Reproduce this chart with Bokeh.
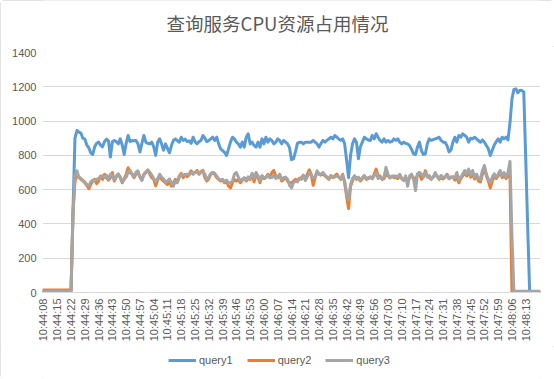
import math
from bokeh.plotting import figure
from bokeh.layouts import column
from bokeh.models import FixedTicker, Legend, LegendItem, Label
from bokeh.embed import file_html
from bokeh.resources import INLINE

title_text = "查询服务CPU资源占用情况"

tick_labels = ["10:44:08", "10:44:15", "10:44:22", "10:44:29", "10:44:36", "10:44:43",
               "10:44:50", "10:44:57", "10:45:04", "10:45:11", "10:45:18", "10:45:25",
               "10:45:32", "10:45:39", "10:45:46", "10:45:53", "10:46:00", "10:46:07",
               "10:46:14", "10:46:21", "10:46:28", "10:46:35", "10:46:42", "10:46:49",
               "10:46:56", "10:47:03", "10:47:10", "10:47:17", "10:47:24", "10:47:31",
               "10:47:38", "10:47:45", "10:47:52", "10:47:59", "10:48:06", "10:48:13"]
tick_step = 7

query1 = [
    5, 5, 5, 5, 5, 5, 5, 5, 5, 5,
    5, 5, 5, 5, 5, 480, 900, 945, 935, 930,
    900, 895, 860, 845, 815, 805, 850, 870, 878, 860,
    850, 880, 895, 885, 790, 880, 887, 880, 867, 896,
    860, 805, 870, 916, 880, 887, 885, 887, 867, 820,
    870, 916, 877, 870, 867, 877, 850, 800, 877, 896,
    867, 830, 867, 840, 815, 857, 887, 896, 885, 877,
    906, 887, 895, 880, 885, 870, 906, 880, 867, 880,
    887, 916, 900, 880, 887, 896, 906, 887, 906, 867,
    838, 828, 818, 799, 838, 877, 906, 896, 877, 867,
    848, 877, 848, 906, 926, 867, 877, 857, 848, 877,
    848, 896, 867, 906, 877, 896, 887, 867, 877, 896,
    887, 867, 887, 877, 867, 845, 775, 779, 820, 870,
    877, 877, 867, 877, 877, 877, 877, 887, 877, 867,
    848, 870, 887, 877, 887, 896, 906, 896, 916, 906,
    896, 887, 896, 867, 770, 670, 800, 867, 896, 877,
    780, 850, 877, 906, 896, 890, 887, 916, 896, 926,
    906, 887, 877, 896, 877, 887, 877, 880, 896, 887,
    896, 877, 867, 877, 870, 867, 857, 835, 809, 805,
    848, 877, 828, 805, 809, 867, 896, 887, 892, 896,
    900, 906, 887, 877, 877, 857, 820, 830, 877, 906,
    877, 916, 906, 926, 916, 906, 877, 900, 896, 906,
    896, 885, 877, 890, 877, 857, 838, 799, 830, 860,
    880, 896, 877, 906, 896, 906, 890, 990, 1130, 1185,
    1188, 1165, 1180, 1178, 1170, 780, 380, 0, 0, 0,
    0, 0, 0]

query2 = [
    15, 15, 15, 15, 15, 15, 15, 15, 15, 15,
    15, 15, 15, 15, 15, 470, 650, 680, 675, 660,
    655, 640, 625, 605, 630, 650, 660, 635, 650, 680,
    660, 690, 670, 655, 670, 700, 650, 675, 690, 670,
    640, 660, 690, 728, 700, 690, 670, 690, 700, 675,
    660, 690, 700, 715, 690, 670, 660, 622, 655, 680,
    660, 650, 640, 630, 650, 620, 640, 660, 645, 680,
    695, 670, 690, 675, 690, 710, 690, 700, 712, 690,
    705, 712, 670, 650, 665, 690, 700, 690, 670, 660,
    650, 655, 640, 650, 620, 610, 640, 660, 650, 660,
    640, 655, 665, 650, 665, 660, 690, 645, 690, 670,
    640, 680, 665, 670, 690, 670, 700, 712, 680, 670,
    690, 650, 660, 670, 650, 640, 640, 650, 660, 655,
    665, 670, 680, 660, 690, 715, 690, 625, 670, 700,
    690, 685, 690, 680, 670, 660, 680, 670, 680, 690,
    673, 660, 690, 640, 560, 490, 620, 650, 680, 660,
    670, 650, 665, 680, 660, 665, 675, 665, 690, 720,
    680, 680, 660, 665, 690, 680, 670, 675, 672, 670,
    665, 680, 665, 655, 670, 645, 670, 680, 670, 650,
    690, 700, 660, 673, 710, 680, 670, 660, 673, 690,
    680, 660, 670, 662, 673, 690, 665, 670, 675, 655,
    675, 640, 665, 680, 700, 680, 700, 672, 690, 662,
    680, 650, 645, 690, 730, 680, 650, 610, 650, 680,
    665, 680, 705, 670, 690, 665, 680, 680, 0, 0,
    0, 0, 0, 0, 0, 0, 0, 0, 0, 0,
    0, 0, 0]

query3 = [
    8, 8, 8, 8, 8, 8, 8, 8, 8, 8,
    8, 8, 8, 8, 8, 450, 680, 710, 670, 665,
    650, 645, 630, 620, 645, 655, 650, 660, 665, 675,
    680, 670, 685, 660, 690, 685, 655, 680, 692, 673,
    646, 663, 673, 702, 712, 690, 673, 702, 710, 673,
    653, 684, 702, 712, 702, 685, 665, 648, 663, 690,
    673, 663, 644, 650, 663, 640, 620, 650, 640, 673,
    690, 685, 685, 690, 685, 700, 692, 700, 705, 695,
    702, 705, 690, 660, 673, 692, 700, 695, 678, 663,
    655, 660, 645, 655, 640, 640, 650, 690, 700, 673,
    653, 660, 670, 653, 675, 665, 695, 665, 700, 680,
    655, 680, 670, 673, 685, 673, 670, 685, 665, 675,
    685, 660, 670, 673, 660, 625, 610, 640, 650, 645,
    665, 660, 685, 653, 673, 700, 685, 670, 673, 710,
    692, 690, 700, 685, 675, 665, 683, 675, 673, 680,
    675, 663, 683, 650, 580, 540, 630, 665, 680, 663,
    673, 653, 670, 682, 665, 670, 673, 663, 680, 700,
    665, 673, 663, 673, 730, 690, 668, 680, 680, 680,
    673, 690, 665, 653, 680, 620, 680, 690, 660, 595,
    690, 700, 690, 673, 700, 673, 682, 663, 673, 700,
    673, 665, 683, 672, 673, 682, 663, 675, 673, 668,
    700, 655, 673, 690, 712, 692, 720, 682, 712, 673,
    690, 665, 660, 712, 741, 690, 660, 640, 673, 692,
    672, 690, 712, 680, 700, 673, 700, 765, 330, 8,
    8, 8, 8, 8, 8, 8, 8, 8, 8, 8,
    8, 8, 8]

series_names = ["query1", "query2", "query3"]
series_colors = ["#5B9BD5", "#ED7D31", "#A5A5A5"]

n = len(query1)
xs = list(range(n))


def strip(h):
    f = figure(width=554, height=h, output_backend="svg", toolbar_location=None,
               x_axis_type=None, y_axis_type=None, x_range=(0, 1), y_range=(0, 1),
               min_border_left=0, min_border_right=0, min_border_top=0, min_border_bottom=0)
    f.outline_line_color = None
    f.xgrid.grid_line_color = None
    f.ygrid.grid_line_color = None
    return f


# ---- title strip ----
p0 = strip(46)
p0.add_layout(Label(x=0.5, y=0.5, x_offset=-14, y_offset=1, text=title_text,
                    text_align="center", text_baseline="middle",
                    text_font="Noto Sans CJK SC", text_font_size="18.5px", text_color="#595959"))

# ---- main chart ----
p = figure(width=554, height=300, output_backend="svg", toolbar_location=None,
           x_range=(-0.5, n - 0.5), y_range=(0, 1400),
           min_border_left=42, min_border_right=14, min_border_top=6, min_border_bottom=54)
p.outline_line_color = None
p.xgrid.grid_line_color = None
p.ygrid.grid_line_color = "#d9d9d9"
p.ygrid.grid_line_width = 1

p.yaxis.ticker = FixedTicker(ticks=[0, 200, 400, 600, 800, 1000, 1200, 1400])
p.yaxis.axis_line_color = None
p.yaxis.major_tick_line_color = None
p.yaxis.major_tick_out = 0
p.yaxis.minor_tick_line_color = None
p.yaxis.major_label_text_font = "Liberation Sans"
p.yaxis.major_label_text_font_size = "11px"
p.yaxis.major_label_text_color = "#595959"
p.yaxis.major_label_standoff = 6

tick_pos = [i * tick_step for i in range(len(tick_labels))]
p.xaxis.ticker = FixedTicker(ticks=tick_pos)
p.xaxis.major_label_overrides = {t: lab for t, lab in zip(tick_pos, tick_labels)}
p.xaxis.major_label_orientation = math.pi / 2
p.xaxis.axis_line_color = "#d9d9d9"
p.xaxis.axis_line_width = 1
p.xaxis.major_tick_line_color = None
p.xaxis.major_tick_out = 0
p.xaxis.minor_tick_line_color = None
p.xaxis.minor_tick_out = 0
p.xaxis.major_label_text_font = "Liberation Sans"
p.xaxis.major_label_text_font_size = "11px"
p.xaxis.major_label_text_color = "#595959"
p.xaxis.major_label_standoff = 6

for name, ys, col in zip(series_names, [query1, query2, query3], series_colors):
    p.line(xs, ys, line_color=col, line_width=3, line_join="round", line_cap="round")

# ---- legend strip ----
p2 = strip(33)
leg_renderers = []
for name, col in zip(series_names, series_colors):
    # kept outside the strip's visible range: only the legend swatch is shown
    leg_renderers.append(p2.line([5, 6], [5, 5], line_color=col, line_width=3))

legend = Legend(items=[LegendItem(label=nm, renderers=[r]) for nm, r in zip(series_names, leg_renderers)],
                location=(126, 11), orientation="horizontal")
legend.glyph_width = 28
legend.glyph_height = 16
legend.label_height = 16
legend.label_standoff = 3
legend.spacing = 14
legend.padding = 0
legend.margin = 0
legend.border_line_color = None
legend.background_fill_alpha = 0
legend.label_text_font = "Liberation Sans"
legend.label_text_font_size = "11px"
legend.label_text_color = "#595959"
p2.add_layout(legend)

layout = column(p0, p, p2, spacing=0,
                styles={"outline": "1px solid #d9d9d9", "outline-offset": "-1px", "border-radius": "4px"})
open("out.html", "w").write(file_html(layout, INLINE))
